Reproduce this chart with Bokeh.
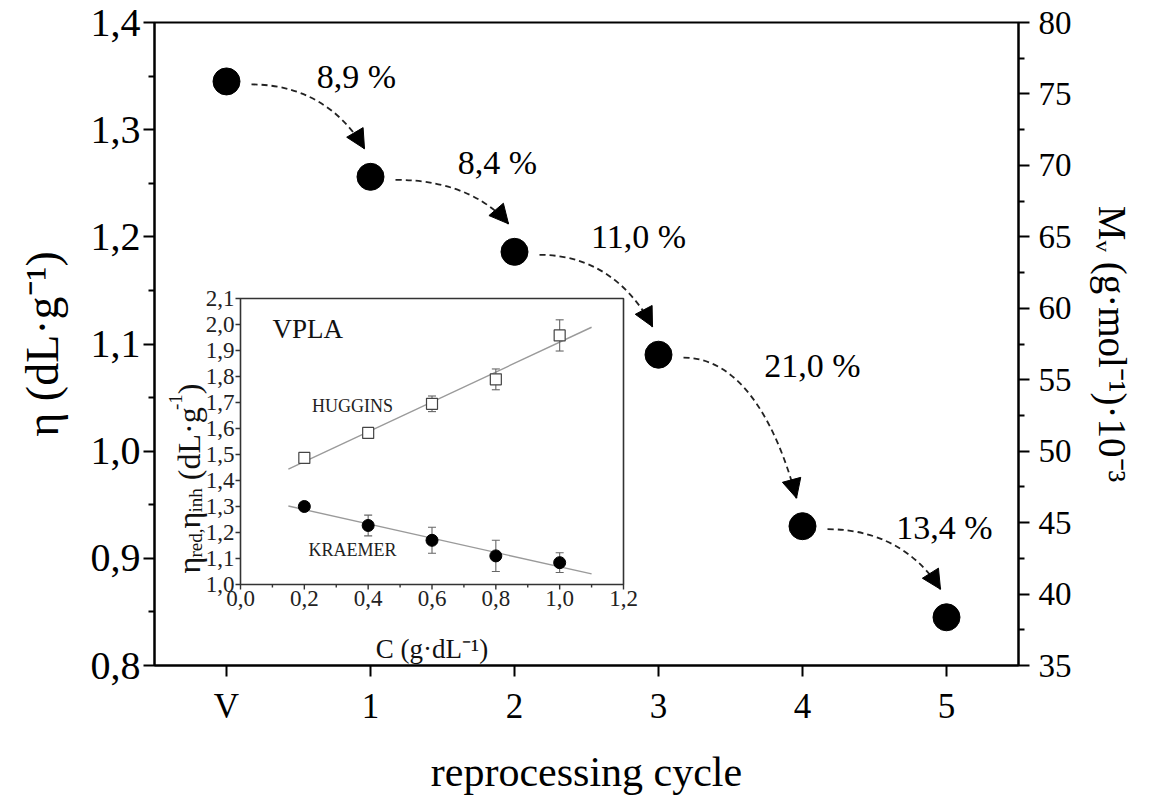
import numpy as np
from bokeh.plotting import figure
from bokeh.models import (Range1d, LinearAxis, FixedTicker, CustomJSTickFormatter,
                          ColumnDataSource, Arrow, NormalHead)
from bokeh.core.properties import value
from bokeh.embed import file_html
from bokeh.resources import INLINE

# ---------------- data ----------------
cycles = ["V", "1", "2", "3", "4", "5"]
eta = [1.345, 1.256, 1.186, 1.090, 0.930, 0.845]
drop_pct = ["8,9 %", "8,4 %", "11,0 %", "21,0 %", "13,4 %"]

eta_ticks = [0.8, 0.9, 1.0, 1.1, 1.2, 1.3, 1.4]
mv_ticks = [35, 40, 45, 50, 55, 60, 65, 70, 75, 80]

conc = [0.2, 0.4, 0.6, 0.8, 1.0]
huggins = [1.487, 1.583, 1.695, 1.789, 1.958]
huggins_err = [0.010, 0.012, 0.030, 0.040, 0.060]
kraemer = [1.300, 1.227, 1.170, 1.110, 1.084]
kraemer_err = [0.010, 0.040, 0.050, 0.060, 0.038]

inset_xticks = [0.0, 0.2, 0.4, 0.6, 0.8, 1.0, 1.2]
inset_xlabels = ["0,0", "0,2", "0,4", "0,6", "0,8", "1,0", "1,2"]
inset_xminor = [0.1, 0.3, 0.5, 0.7, 0.9, 1.1]
inset_yticks = [1.0, 1.1, 1.2, 1.3, 1.4, 1.5, 1.6, 1.7, 1.8, 1.9, 2.0, 2.1]
inset_ylabels = ["1,0", "1,1", "1,2", "1,3", "1,4", "1,5", "1,6", "1,7", "1,8", "1,9", "2,0", "2,1"]

# ---------------- layout (page pixels) ----------------
FONT = value("Liberation Serif")
FL, FR, FT, FB = 154, 1018, 22, 665          # main frame
IL, IR, IT, IB = 240, 623, 298, 584          # inset box
X0, X1, Y0, Y1 = -0.5, 5.5, 0.8, 1.4
px_x = (FR - FL) / (X1 - X0)
px_y = (FB - FT) / (Y1 - Y0)

p = figure(frame_width=FR - FL, frame_height=FB - FT,
           x_range=Range1d(X0, X1), y_range=Range1d(Y0, Y1),
           min_border_left=FL, min_border_top=FT,
           min_border_right=140, min_border_bottom=128,
           output_backend="svg", toolbar_location=None)
p.xgrid.visible = False
p.ygrid.visible = False
p.outline_line_color = "black"
p.outline_line_width = 2
p.background_fill_color = "white"
p.border_fill_color = "white"

# bottom axis
xa = p.xaxis[0]
xa.ticker = FixedTicker(ticks=list(range(len(cycles))), minor_ticks=[])
xa.major_label_overrides = {i: c for i, c in enumerate(cycles)}
xa.axis_label = "reprocessing cycle"

# left axis
ya = p.yaxis[0]
ya.ticker = FixedTicker(ticks=eta_ticks,
                        minor_ticks=[round(t + 0.05, 2) for t in eta_ticks[:-1]])
ya.formatter = CustomJSTickFormatter(code="return tick.toFixed(1).replace('.', ',')")
ya.axis_label = "η (dL·g⁻¹)"

# right axis
p.extra_y_ranges = {"mv": Range1d(mv_ticks[0], mv_ticks[-1])}
ra = LinearAxis(y_range_name="mv")
ra.ticker = FixedTicker(ticks=mv_ticks, minor_ticks=[t + 2.5 for t in mv_ticks[:-1]])
ra.axis_label = "Mᵥ (g·mol⁻¹)·10⁻³"
p.add_layout(ra, "right")

for ax, tsize, lsize in ((xa, "35px", "42px"), (ya, "40px", "46px"), (ra, "33px", "39px")):
    ax.axis_line_width = 2
    ax.axis_line_color = "black"
    ax.major_tick_line_width = 2
    ax.minor_tick_line_width = 2
    ax.major_tick_in = 0
    ax.minor_tick_in = 0
    ax.major_tick_out = 11
    ax.minor_tick_out = 6
    ax.major_label_text_font = "Liberation Serif"
    ax.major_label_text_font_size = tsize
    ax.major_label_text_color = "black"
    ax.axis_label_text_font = "Liberation Serif"
    ax.axis_label_text_font_size = lsize
    ax.axis_label_text_font_style = "normal"
    ax.axis_label_text_color = "black"
xa.major_label_standoff = 10
xa.axis_label_standoff = 20
ya.major_label_standoff = 3
ya.axis_label_standoff = 20
ra.major_label_standoff = 9
ra.axis_label_standoff = 16

# ---------------- main series ----------------
xs = list(range(len(cycles)))
p.scatter(xs, eta, size=27, color="black")

# dashed curved arrows between consecutive points
sdx, sdy = 25 / px_x, -3 / px_y       # start offset from point i
edx, edy = -6 / px_x, 28 / px_y       # tip offset from point i+1
bx0, by0, bx1, by1, c0x, c0y, c1x, c1y = [], [], [], [], [], [], [], []
for i in range(len(xs) - 1):
    sx, sy = xs[i] + sdx, eta[i] + sdy
    ex, ey = xs[i + 1] + edx, eta[i + 1] + edy
    bx0.append(sx); by0.append(sy); bx1.append(ex); by1.append(ey)
    c0x.append(sx + 0.55 * (ex - sx)); c0y.append(sy)
    c1x.append(ex - 0.15 * (ex - sx)); c1y.append(ey + 0.45 * (sy - ey))
p.bezier(x0=bx0, y0=by0, x1=bx1, y1=by1, cx0=c0x, cy0=c0y, cx1=c1x, cy1=c1y,
         line_color="#222222", line_width=1.8, line_dash="6 4")
asrc = ColumnDataSource(dict(xs=c1x, ys=c1y, xe=bx1, ye=by1))
p.add_layout(Arrow(end=NormalHead(size=19, fill_color="black", line_color="black", line_width=1),
                   x_start="xs", y_start="ys", x_end="xe", y_end="ye",
                   source=asrc, line_alpha=0))

# percentage labels
lab_dx = [58, 55, 52, 82, 70]
lab_dy = [-53, -52, -67, -75, -44]
mx = [(xs[i] + xs[i + 1]) / 2 for i in range(len(drop_pct))]
my = [(eta[i] + eta[i + 1]) / 2 for i in range(len(drop_pct))]
p.text(mx, my, text=drop_pct, x_offset=lab_dx, y_offset=lab_dy,
       text_font=FONT, text_font_size="34px", text_align="center",
       text_baseline="middle", text_color="black")

# ---------------- inset ----------------
ix0, ix1, iy0, iy1 = 0.0, 1.2, 1.0, 2.1
isx = (ix1 - ix0) / (IR - IL)
isy = (iy1 - iy0) / (IB - IT)
p.extra_x_ranges = {"ix": Range1d(ix0 - (IL - FL) * isx, ix1 + (FR - IR) * isx)}
p.extra_y_ranges["iy"] = Range1d(iy0 - (FB - IB) * isy, iy1 + (IT - FT) * isy)
R = dict(x_range_name="ix", y_range_name="iy")

p.quad(left=[ix0], right=[ix1], bottom=[iy0], top=[iy1], fill_color="white",
       line_color="#333333", line_width=1.6, **R)

# ticks
tk = 5
p.segment(x0=inset_xticks, y0=[iy0] * len(inset_xticks), x1=inset_xticks,
          y1=[iy0 - tk * isy] * len(inset_xticks), line_color="#333333", line_width=1.4, **R)
p.segment(x0=inset_xminor, y0=[iy0] * len(inset_xminor), x1=inset_xminor,
          y1=[iy0 - 3 * isy] * len(inset_xminor), line_color="#333333", line_width=1.4, **R)
p.segment(x0=[ix0] * len(inset_yticks), y0=inset_yticks, x1=[ix0 - tk * isx] * len(inset_yticks),
          y1=inset_yticks, line_color="#333333", line_width=1.4, **R)
p.text(inset_xticks, [iy0] * len(inset_xticks), text=inset_xlabels, y_offset=6,
       text_font=FONT, text_font_size="23px", text_align="center", text_baseline="top",
       text_color="#222222", **R)
p.text([ix0] * len(inset_yticks), inset_yticks, text=inset_ylabels, x_offset=-6,
       text_font=FONT, text_font_size="23px", text_align="right", text_baseline="middle",
       text_color="#222222", **R)

# fit lines
fit_x = np.array([0.15, 1.1])
for yy in (huggins, kraemer):
    b, a = np.polyfit(conc, yy, 1)
    p.line(fit_x, a + b * fit_x, line_color="#9a9a9a", line_width=1.4, **R)

# error bars
cap = 4 * isx
for yy, ee in ((huggins, huggins_err), (kraemer, kraemer_err)):
    lo = [y - e for y, e in zip(yy, ee)]
    hi = [y + e for y, e in zip(yy, ee)]
    p.segment(x0=conc, y0=lo, x1=conc, y1=hi, line_color="#666666", line_width=1.1, **R)
    for ends in (lo, hi):
        p.segment(x0=[c - cap for c in conc], y0=ends, x1=[c + cap for c in conc], y1=ends,
                  line_color="#666666", line_width=1.1, **R)

p.scatter(conc, huggins, marker="square", size=11, fill_color="white",
          line_color="#444444", line_width=1.2, **R)
p.scatter(conc, kraemer, marker="circle", size=12, fill_color="black",
          line_color="black", **R)

# inset texts
p.text([0.10], [2.04], text=["VPLA"], text_font=FONT, text_font_size="27px",
       text_align="left", text_baseline="top", text_color="#111111", **R)
p.text([0.351], [1.688], text=["HUGGINS"], text_font=FONT, text_font_size="18px",
       text_align="center", text_baseline="middle", text_color="#222222", **R)
p.text([0.351], [1.131], text=["KRAEMER"], text_font=FONT, text_font_size="18px",
       text_align="center", text_baseline="middle", text_color="#222222", **R)
p.text([0.6], [iy0], text=["C (g·dL⁻¹)"], y_offset=64, text_font=FONT, text_font_size="27px",
       text_align="center", text_baseline="middle", text_color="#111111", **R)

# rotated inset y-label with subscripts
W = {' ': 250, '(': 333, ')': 333, ',': 250, '-': 333, '·': 250, '1': 500, 'd': 500,
     'e': 444, 'g': 500, 'h': 500, 'i': 278, 'n': 500, 'r': 333, 'L': 611, 'η': 500}
pieces = [("η", 32, 0), ("red,", 19, 7), ("η", 32, 0), ("inh", 19, 7),
          ("\u00a0(dL·g", 32, 0), ("-1", 19, -13), (")", 32, 0)]
cum = 0.0
tx, ty, tt, txo, tyo, tsz = [], [], [], [], [], []
for s, sz, sh in pieces:
    tx.append(ix0); ty.append(iy0); tt.append(s)
    txo.append(-52 + sh); tyo.append(-11 - cum); tsz.append(f"{sz}px")
    cum += sum(W.get(c, 250 if c == "\u00a0" else 500) for c in s) * sz / 1000
isrc = ColumnDataSource(dict(x=tx, y=ty, t=tt, xo=txo, yo=tyo, fs=tsz))
p.text(x="x", y="y", text="t", x_offset="xo", y_offset="yo", text_font_size="fs",
       source=isrc, angle=np.pi / 2, text_font=FONT, text_align="left",
       text_baseline="alphabetic", text_color="#111111", **R)

open("out.html", "w").write(file_html(p, INLINE))
